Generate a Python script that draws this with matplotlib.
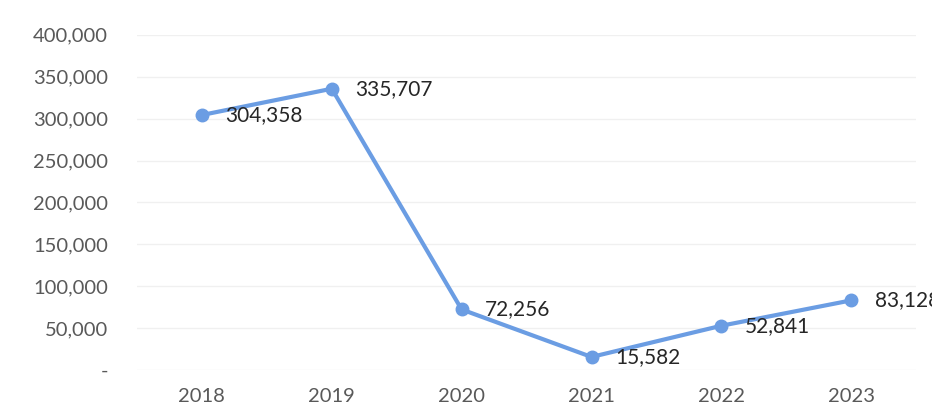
import matplotlib.pyplot as plt
from matplotlib.ticker import FuncFormatter

# data
years = ['2018', '2019', '2020', '2021', '2022', '2023']
values = [304358, 335707, 72256, 15582, 52841, 83128]
y_ticks = [0, 50000, 100000, 150000, 200000, 250000, 300000, 350000, 400000]

plt.rcParams['font.family'] = ['Lato', 'DejaVu Sans']

fig = plt.figure(figsize=(9.32, 4.2), dpi=100)
ax = fig.add_axes([0.147, 0.119, 0.836, 0.798])

x = list(range(len(years)))
ax.plot(x, values, color='#6b9de3', linewidth=3, marker='o', markersize=9,
        markerfacecolor='#6b9de3', markeredgecolor='#6b9de3', zorder=3)

for xi, v in zip(x, values):
    ax.annotate(f'{v:,}', (xi, v), xytext=(17, 0), textcoords='offset points',
                ha='left', va='center', fontsize=15, color='#262626',
                annotation_clip=False)

ax.set_xlim(-0.5, len(years) - 0.5)
ax.set_ylim(0, 400000)
ax.set_xticks(x)
ax.set_xticklabels(years)
ax.set_yticks(y_ticks)
ax.yaxis.set_major_formatter(FuncFormatter(lambda v, p: '-' if v == 0 else f'{int(v):,}'))

ax.grid(axis='y', color='#f0f0f0', linewidth=1)
ax.set_axisbelow(True)
for s in ax.spines.values():
    s.set_visible(False)
ax.tick_params(length=0, labelsize=14.5, colors='#595959')
ax.tick_params(axis='x', pad=13)
ax.tick_params(axis='y', pad=21)

fig.savefig('out.png', dpi=100)
